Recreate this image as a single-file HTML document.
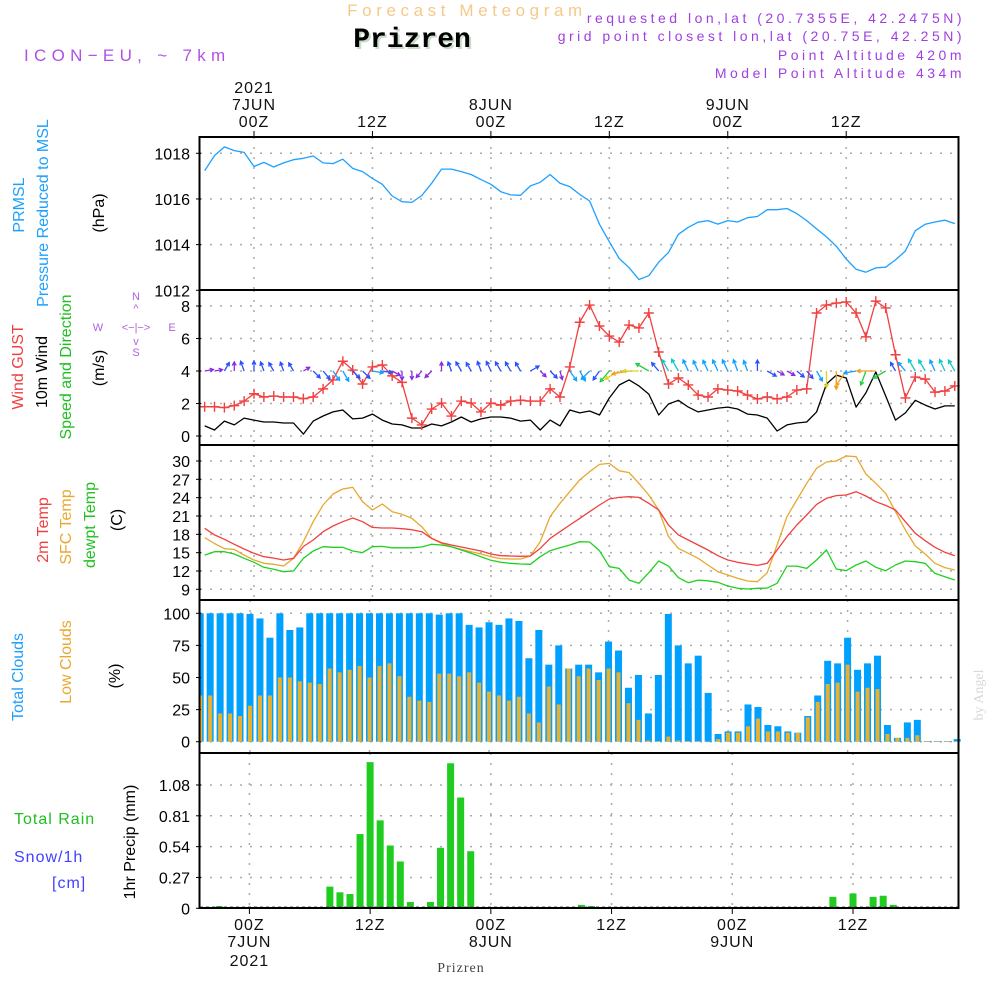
<!DOCTYPE html>
<html><head><meta charset="utf-8"><style>
html,body{margin:0;padding:0;background:#fff;}
svg{display:block;font-family:"Liberation Sans Narrow","Liberation Sans",sans-serif;}
</style></head><body>
<svg id="chart" width="1000" height="1000" viewBox="0 0 1000 1000" xmlns="http://www.w3.org/2000/svg">
<rect x="0" y="0" width="1000" height="1000" fill="#fff"/>
<g id="header">
<text x="467" y="16" text-anchor="middle" font-size="17" fill="#f5c98a" letter-spacing="4.6" font-family="Liberation Sans,sans-serif">Forecast Meteogram</text>
<text x="414" y="49" text-anchor="middle" font-size="28" font-weight="bold" fill="#c8dcc8" font-family="Liberation Mono,monospace">Prizren</text>
<text x="412" y="47" text-anchor="middle" font-size="28" font-weight="bold" fill="#000" font-family="Liberation Mono,monospace">Prizren</text>
<text x="24" y="61" font-size="17" fill="#b050e8" letter-spacing="5.3" font-family="Liberation Sans,sans-serif">ICON−EU, ~ 7km</text>
<g font-size="14" fill="#a040e0" text-anchor="end" letter-spacing="3.5" font-family="Liberation Sans,sans-serif">
<text x="965" y="23">requested lon,lat (20.7355E, 42.2475N)</text>
<text x="965" y="41">grid point closest lon,lat (20.75E, 42.25N)</text>
<text x="965" y="60">Point Altitude 420m</text>
<text x="965" y="78">Model Point Altitude 434m</text>
</g>
</g>
<g id="grid"></g>
<g id="series"></g>
<g id="frames"></g>
<g id="labels" font-size="15" fill="#000"></g>
<g id="ylabels" font-size="16">
<text transform="translate(24,205) rotate(-90)" text-anchor="middle" fill="#1ea0ff">PRMSL</text>
<text transform="translate(48,213) rotate(-90)" text-anchor="middle" fill="#1ea0ff">Pressure Reduced to MSL</text>
<text transform="translate(104,213) rotate(-90)" text-anchor="middle" fill="#000">(hPa)</text>
<text transform="translate(23,367) rotate(-90)" text-anchor="middle" fill="#f04040">Wind GUST</text>
<text transform="translate(47,372) rotate(-90)" text-anchor="middle" fill="#000">10m Wind</text>
<text transform="translate(71,367) rotate(-90)" text-anchor="middle" fill="#20c020">Speed and Direction</text>
<text transform="translate(104,368) rotate(-90)" text-anchor="middle" fill="#000">(m/s)</text>
<g font-size="11" fill="#b060e0" text-anchor="middle">
<text x="136" y="300">N</text><text x="136" y="312">^</text><text x="136" y="331">&lt;−|−&gt;</text><text x="98" y="331">W</text><text x="172" y="331">E</text><text x="136" y="345">v</text><text x="136" y="356">S</text>
</g>
<text transform="translate(48,530) rotate(-90)" text-anchor="middle" fill="#f04040">2m Temp</text>
<text transform="translate(71,527) rotate(-90)" text-anchor="middle" fill="#e8a830">SFC Temp</text>
<text transform="translate(95,525) rotate(-90)" text-anchor="middle" fill="#20c020">dewpt Temp</text>
<text transform="translate(122,520) rotate(-90)" text-anchor="middle" fill="#000">(C)</text>
<text transform="translate(23,677) rotate(-90)" text-anchor="middle" fill="#1ea0ff">Total Clouds</text>
<text transform="translate(71,662) rotate(-90)" text-anchor="middle" fill="#e8a830">Low Clouds</text>
<text transform="translate(120,676) rotate(-90)" text-anchor="middle" fill="#000">(%)</text>
<text x="14" y="824" fill="#20c020" letter-spacing="1">Total  Rain</text>
<text x="14" y="862" fill="#4040ff" letter-spacing="1">Snow/1h</text>
<text x="52" y="888" fill="#4040ff" letter-spacing="1">[cm]</text>
<text transform="translate(135,842) rotate(-90)" text-anchor="middle" fill="#000">1hr Precip (mm)</text>
<text transform="translate(983,695) rotate(-90)" text-anchor="middle" fill="#d8d8d8" font-size="14" font-family="Liberation Serif,serif">by Angel</text>
<text x="461" y="972" text-anchor="middle" fill="#444" font-size="14" font-family="Liberation Serif,serif" letter-spacing="1">Prizren</text>
</g>
</svg>
<script>
// ---- data (hours -5 .. 71, hourly) ----
const startHour = -5;
const pressure = [1017.24,1017.9,1018.28,1018.12,1018.04,1017.42,1017.6,1017.4,1017.58,1017.72,1017.78,1017.88,1017.58,1017.55,1017.74,1017.34,1017.2,1016.9,1016.64,1016.13,1015.88,1015.85,1016.15,1016.69,1017.31,1017.31,1017.2,1017.07,1016.85,1016.64,1016.32,1016.18,1016.16,1016.57,1016.73,1017.07,1016.69,1016.54,1016.2,1015.91,1014.89,1014.13,1013.39,1012.99,1012.47,1012.64,1013.23,1013.66,1014.45,1014.76,1014.98,1015.05,1014.9,1015.05,1014.99,1015.18,1015.23,1015.53,1015.53,1015.58,1015.36,1015.05,1014.69,1014.34,1013.93,1013.37,1012.92,1012.79,1012.98,1013.01,1013.33,1013.72,1014.61,1014.89,1014.99,1015.07,1014.92];
const gust = [1.8,1.8,1.75,1.87,2.15,2.6,2.4,2.46,2.4,2.4,2.3,2.4,2.9,3.45,4.6,4.06,3.2,4.25,4.37,3.7,3.3,1.1,0.68,1.66,2.03,1.23,2.15,2.03,1.48,2.03,1.9,2.15,2.2,2.15,2.15,2.9,2.4,4.25,7.0,8.06,6.77,6.15,5.78,6.83,6.65,7.57,5.17,3.2,3.57,3.14,2.52,2.4,2.9,2.83,2.77,2.52,2.28,2.4,2.28,2.4,2.83,2.9,7.57,8.06,8.18,8.25,7.57,6.1,8.3,7.88,5.0,2.34,3.63,3.5,2.7,2.77,3.08];
const wind10m = [0.62,0.37,0.92,0.68,1.1,0.98,0.86,0.86,0.8,0.8,0.12,0.92,1.23,1.48,1.6,1.05,1.1,1.35,0.98,0.74,0.68,0.49,0.49,0.74,0.62,0.86,1.17,0.86,1.05,1.17,1.17,1.1,0.92,0.98,0.37,0.98,0.62,1.6,1.42,1.54,1.29,2.34,3.14,3.45,3.08,2.58,1.29,1.97,2.2,1.78,1.48,1.6,1.72,1.78,1.66,1.35,1.29,1.1,0.31,0.68,0.8,0.86,1.48,3.2,3.75,3.57,1.78,2.65,3.94,2.46,0.98,1.42,2.2,1.9,1.66,1.85,1.85];
const windDir = [80,80,30,0,340,0,340,330,340,330,60,135,140,145,150,135,135,100,100,120,180,180,220,225,0,340,330,330,340,335,330,330,330,60,135,135,165,145,150,225,215,220,240,260,270,300,320,330,330,335,335,335,335,335,340,340,0,120,120,120,130,140,150,180,180,215,260,200,270,240,330,320,330,330,335,335,330];
const temp2m = [18.98,17.9,17.18,16.36,15.6,14.9,14.34,14.1,13.8,14.07,16,17.07,18.43,19.36,20.07,20.67,20.07,19.14,19.03,19.03,18.92,18.76,18.43,17.34,16.63,16.25,15.92,15.6,15.27,14.78,14.5,14.45,14.4,14.45,15.7,17.34,18.43,19.53,20.6,21.7,22.8,23.78,24.05,24.16,24.05,23.07,21.98,19.53,17.9,17.07,16.25,15.43,14.5,13.8,13.42,13.14,12.92,13.25,15.43,17.62,19.53,21.16,22.9,23.9,24.33,24.44,24.98,24.27,23.34,22.74,21.98,20.07,18.16,16.96,15.87,15.05,14.5];
const tempSfc = [17.45,16.5,15.65,15.54,14.6,13.8,13.25,13.1,12.82,14.07,16.8,20.07,22.8,24.6,25.42,25.7,23.34,21.98,22.96,21.7,21.27,20.6,19.25,17.34,16.52,15.97,15.54,15.16,14.78,14.34,14.02,13.96,13.96,14.45,16.8,20.9,23.07,24.98,26.9,28.25,29.45,29.6,28.4,28.1,26.35,24.44,21.98,17.62,15.7,14.9,14.07,12.98,11.89,11.34,10.8,10.36,10.25,11.7,16.25,20.9,23.62,26.35,28.8,29.84,30,30.82,30.7,27.87,26.35,24.7,21.7,18.7,16.09,14.78,13.25,12.55,12.16];
const tempDew = [14.6,15.16,15.16,14.78,14.07,13.42,12.6,12.27,11.89,12,14.07,15.27,15.97,15.87,15.87,15.27,15,15.97,16.03,15.8,15.8,15.8,15.92,16.36,16.25,15.97,15.43,14.9,14.34,13.74,13.42,13.25,13.14,13.1,14.34,15.32,15.8,16.25,16.8,16.74,15.32,12.7,12.43,10.5,9.98,11.72,13.63,12.8,10.9,10.09,10.5,10.4,10.15,9.54,9.16,9.05,9.16,9.2,9.98,12.8,12.8,12.43,13.8,15.43,12.32,12.05,12.98,13.63,12.6,12.05,12.98,13.63,13.52,13.25,11.6,11.07,10.52];
const cloudTotal = [100,100,100,100,100,99.5,96,81,100,87,89,100,100,100,100,100,100,100,100,100,100,100,100,100,99,100,100,91,89,93,91,96,94,65,87,60,75,57,60,60,54,78,71,42,52,22,52,99.5,75,61,67,38,6,8,8,29,27,13,12,8,7,20,36,63,61,81,56,61,67,13,3,15,17,0.5,0.5,0.5,2];
const cloudLow = [36,36,22,22,20,28,36,36,50,50,47,46,45,57,54,56,59,50,59,61,51,35,32,31,53,53,51,54,46,39,36,32,35,22,15,43,29,57,51,57,48,57,54,30,17,1,0.5,4,1,0.5,0.5,0,2,7,7,12,18,8,8,7,7,19,31,45,46,60,39,42,41,6,3,3,5,0.5,0.5,0.5,0.5];
const precipHours = [-3,8,9,10,11,12,13,14,15,16,18,19,20,21,22,32,33,34,58,60,62,63,64];
const precipValues = [0.02,0.19,0.14,0.125,0.65,1.28,0.77,0.55,0.41,0.055,0.055,0.53,1.27,0.97,0.50,0.01,0.03,0.02,0.1,0.13,0.1,0.11,0.03];
const pressureTicks = [1018,1016,1014,1012];
const windTicks = [0,2,4,6,8];
const tempTicks = [9,12,15,18,21,24,27,30];
const cloudTicks = [0,25,50,75,100];
const precipTicks = [0,0.27,0.54,0.81,1.08];
const gridHours = [0,12,24,36,48,60];
const topDay = ["7JUN","8JUN","9JUN"];

// ---- axis functions ----
const xU = h => 254 + 9.87*h;
const xC = h => 250 + 9.96*h;
const xP = h => 249.4 + 10.06*h;
const yPres = v => 153.3 + (1018 - v)*22.83;
const yWind = v => 436 - v*16.25;
const yTemp = v => 461 + (30 - v)*6.11;
const yCloud = v => 741.7 - v*1.284;
const yPrec = v => 908.3 - v*114.2;
const hourAt = i => startHour + i;

const NS='http://www.w3.org/2000/svg';
function mk(tag, parent, attrs){const e=document.createElementNS(NS,tag);for(const k in attrs)e.setAttribute(k,attrs[k]);parent.appendChild(e);return e;}
const G=document.getElementById('grid'), S=document.getElementById('series'), F=document.getElementById('frames'), L=document.getElementById('labels');

const panels=[
 {name:'pressure',top:137,bot:290,xf:xU,yf:yPres,ticks:pressureTicks,grid:[1018,1016,1014]},
 {name:'wind',top:290,bot:445,xf:xU,yf:yWind,ticks:windTicks,grid:windTicks},
 {name:'temp',top:445,bot:600,xf:xU,yf:yTemp,ticks:tempTicks,grid:tempTicks},
 {name:'clouds',top:600,bot:753,xf:xC,yf:yCloud,ticks:cloudTicks,grid:cloudTicks},
 {name:'precip',top:753,bot:908,xf:xP,yf:yPrec,ticks:precipTicks,grid:precipTicks.slice(1)}
];
panels.forEach(p=>{
  p.grid.forEach(v=>{
    const l=mk('line',G,{x1:200,x2:958,y1:p.yf(v),y2:p.yf(v),stroke:'#aaa','stroke-width':1.5,'stroke-dasharray':'2 8'});
    
    
  });
  gridHours.forEach(h=>{
    const l=mk('line',G,{x1:p.xf(h),x2:p.xf(h),y1:p.top,y2:p.bot,stroke:'#aaa','stroke-width':1.5,'stroke-dasharray':'2 8'});
    
    
  });
  p.ticks.forEach(v=>{
    const t=mk('text',L,{x:190,y:p.yf(v)+6,'text-anchor':'end','font-size':16});
    t.textContent=String(v);
    
    
    mk('line',L,{x1:196,x2:201,y1:p.yf(v),y2:p.yf(v),stroke:'#000','stroke-width':1});
  });
  const r=mk('rect',F,{x:199.5,y:p.top,width:759,height:p.bot-p.top,fill:'none',stroke:'#000','stroke-width':2});
  
  
});

function poly(vals,xf,yf,color,name,w){
  const pts=vals.map((v,i)=>xf(hourAt(i)).toFixed(1)+','+yf(v).toFixed(1)).join(' ');
  const e=mk('polyline',S,{points:pts,fill:'none',stroke:color,'stroke-width':w||1.3,'stroke-linejoin':'round'});
  
  
}
poly(pressure,xU,yPres,'#1ea0ff','pressure-line');
poly(wind10m,xU,yWind,'#000','wind-10m-line');
poly(gust,xU,yWind,'#f04040','wind-gust-line');
gust.forEach((v,i)=>{
  const x=xU(hourAt(i)), y=yWind(v);
  const c=mk('path',S,{d:`M${x-5},${y}H${x+5}M${x},${y-5}V${y+5}`,stroke:'#f04040','stroke-width':1.4});
  
  
});
function windColor(s){return s<0.8?'#8a2be2':s<1.3?'#2850ff':s<1.8?'#10a0ff':s<2.3?'#10c8c8':s<2.8?'#20d040':s<3.4?'#e0d020':'#f0a020';}
windDir.forEach((d,i)=>{
  const s=wind10m[i], x0=xU(hourAt(i)), y0=yWind(4);
  const len=7+3*s, a=d*Math.PI/180;
  const x1=x0+len*Math.sin(a), y1=y0-len*Math.cos(a);
  const hl=4, b1=a+Math.PI-0.5, b2=a+Math.PI+0.5;
  const col=windColor(s);
  const g=mk('path',S,{d:`M${x0.toFixed(1)},${y0.toFixed(1)}L${x1.toFixed(1)},${y1.toFixed(1)}M${(x1+hl*Math.sin(b1)).toFixed(1)},${(y1-hl*Math.cos(b1)).toFixed(1)}L${x1.toFixed(1)},${y1.toFixed(1)}L${(x1+hl*Math.sin(b2)).toFixed(1)},${(y1-hl*Math.cos(b2)).toFixed(1)}`,stroke:col,'stroke-width':1.3,fill:'none'});
  
  
});
poly(tempSfc,xU,yTemp,'#e8a830','sfc-temp-line');
poly(temp2m,xU,yTemp,'#f04040','temp-2m-line');
poly(tempDew,xU,yTemp,'#20d020','dewpoint-line');
cloudTotal.forEach((v,i)=>{
  const x=xC(hourAt(i));
  const r=mk('rect',S,{x:Math.max(200,x-3.5),y:yCloud(v),width:x-3.5<200?x+3.5-200:7,height:Math.max(0.5,yCloud(0)-yCloud(v)),fill:'#00a0ff'});
  
  
});
cloudLow.forEach((v,i)=>{
  const x=xC(hourAt(i));
  const r=mk('rect',S,{x:Math.max(200,x-2),y:yCloud(v),width:x-2<200?x+2-200:4,height:Math.max(0.5,yCloud(0)-yCloud(v)),fill:'#e8b030'});
  
  
});
precipHours.forEach((h,i)=>{
  const x=xP(h), v=precipValues[i];
  const r=mk('rect',S,{x:x-3.5,y:yPrec(v),width:7,height:yPrec(0)-yPrec(v),fill:'#20cc20'});
  
  
});
mk('line',S,{x1:200,x2:958,y1:907,y2:907,stroke:'#555','stroke-width':1,'stroke-dasharray':'3 3'});

function txt(x,y,s,name){const t=mk('text',L,{x:x,y:y,'text-anchor':'middle','font-size':16,fill:'#111','letter-spacing':'1'});t.textContent=s;}
gridHours.forEach((h,k)=>{
  const xt=xU(h), xb=xP(h);
  const lab=(h%24===0)?'00Z':'12Z';
  txt(xt,127,lab,'top-time-label');
  mk('line',L,{x1:xt,x2:xt,y1:131,y2:137,stroke:'#000','stroke-width':1});
  txt(xb,930,lab,'bottom-time-label');
  mk('line',L,{x1:xb,x2:xb,y1:908,y2:914,stroke:'#000','stroke-width':1});
  if(h%24===0){
    txt(xt,110,topDay[h/24],'top-date-label');
    txt(xb,947,topDay[h/24],'bottom-date-label');
  }
});
txt(xU(0),93,'2021','top-year-label');
txt(xP(0),966,'2021','bottom-year-label');
</script>
</body></html>
